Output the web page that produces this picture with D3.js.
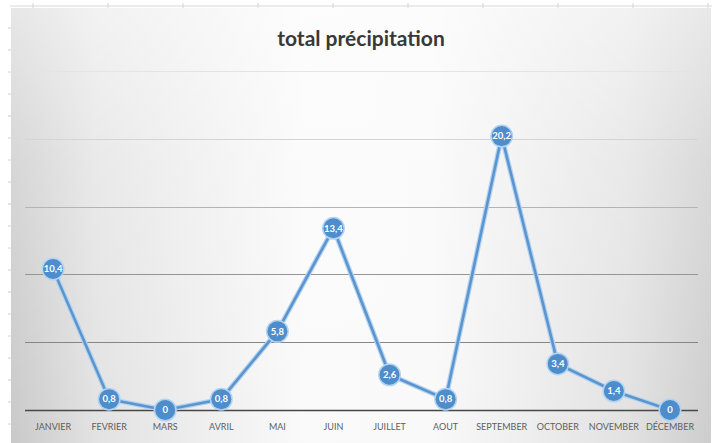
<!DOCTYPE html>
<html><head><meta charset="utf-8">
<script src="https://cdn.jsdelivr.net/npm/d3@7/dist/d3.min.js"></script>
<style>body{margin:0;background:#fff}svg{display:block}</style>
</head><body>
<script>
const months = ["JANVIER","FEVRIER","MARS","AVRIL","MAI","JUIN","JUILLET","AOUT","SEPTEMBER","OCTOBER","NOVEMBER","DÉCEMBER"];
const precipitation = [10.4,0.8,0,0.8,5.8,13.4,2.6,0.8,20.2,3.4,1.4,0];
const yTicks = [0,5,10,15,20,25];
const title = "total précipitation";

const W = 715, H = 443;
const svg = d3.select("body").append("svg").attr("width", W).attr("height", H);
const defs = svg.append("defs");
const lg = defs.append("linearGradient").attr("id","bgh").attr("x1","0").attr("x2","1").attr("y1","0").attr("y2","0");
[[0,"#c9c9c9"],[0.12,"#e2e2e2"],[0.42,"#fafafa"],[0.6,"#f9f9f9"],[0.88,"#e2e2e2"],[1,"#cdcdcd"]]
  .forEach(([o,c])=>lg.append("stop").attr("offset",o).attr("stop-color",c));
const lv = defs.append("linearGradient").attr("id","bgv").attr("x1","0").attr("x2","0").attr("y1","0").attr("y2","1");
lv.append("stop").attr("offset",0).attr("stop-color","#ffffff").attr("stop-opacity",0.55);
lv.append("stop").attr("offset",0.35).attr("stop-color","#ffffff").attr("stop-opacity",0.25);
lv.append("stop").attr("offset",1).attr("stop-color","#ffffff").attr("stop-opacity",0);

// outer spreadsheet rulers
svg.append("line").attr("x1",10).attr("x2",712).attr("y1",6).attr("y2",6).attr("stroke","#d8d8d8").attr("stroke-width",1);
d3.range(33, 712, 75).forEach(x => svg.append("line").attr("x1",x).attr("x2",x).attr("y1",3).attr("y2",8).attr("stroke","#d4d4d4"));
d3.range(28, 440, 22).forEach(y => svg.append("line").attr("x1",8).attr("x2",11).attr("y1",y).attr("y2",y).attr("stroke","#cfcfcf"));

// chart area
svg.append("rect").attr("x",11).attr("y",8).attr("width",700).attr("height",435).attr("fill","url(#bgh)");
svg.append("rect").attr("x",11).attr("y",8).attr("width",700).attr("height",435).attr("fill","url(#bgv)");

const x = d3.scaleBand().domain(months).range([25, 698]);
const y = d3.scaleLinear().domain([0,25]).range([410, 71]);

// gridlines
const gridCol = {0:"#474747",5:"#858585",10:"#959595",15:"#b4b4b4",20:"#d4d4d4",25:"#e4e4e4"};
svg.append("g").selectAll("line").data(yTicks).join("line")
  .attr("x1",25).attr("x2",698)
  .attr("y1",d=>Math.round(y(d))+0.5).attr("y2",d=>Math.round(y(d))+0.5)
  .attr("stroke",d=>gridCol[d]).attr("stroke-width",d=>d===0?1.6:1.2);

// x axis labels
const xAxis = d3.axisBottom(x).tickSize(0).tickPadding(0);
const gx = svg.append("g").attr("transform","translate(0,424)").call(xAxis);
gx.select(".domain").remove();
gx.selectAll("text").attr("font-family","Lato, 'Open Sans', sans-serif").attr("font-size","9px")
  .attr("fill","#5e5e5e").attr("dy","0.71em");

// title
svg.append("text").attr("x",361).attr("y",46).attr("text-anchor","middle")
  .attr("font-family","Lato, 'Open Sans', sans-serif").attr("font-weight","bold").attr("font-size","21px")
  .attr("fill","#383838").text(title);

const pts = months.map((m,i)=>({m, v:precipitation[i]}));
const line = d3.line().x(d=>x(d.m)+x.bandwidth()/2).y(d=>y(d.v));
svg.append("path").datum(pts).attr("d",line).attr("fill","none").attr("stroke","#b3d3f0").attr("stroke-width",5).attr("stroke-linejoin","round");
svg.append("path").datum(pts).attr("d",line).attr("fill","none").attr("stroke","#5b95cf").attr("stroke-width",2.6).attr("stroke-linejoin","round");

const g = svg.append("g").selectAll("g").data(pts).join("g")
  .attr("transform",d=>`translate(${x(d.m)+x.bandwidth()/2},${y(d.v)})`);
g.append("circle").attr("r",11.5).attr("fill","#b3d3f0");
g.append("circle").attr("r",10).attr("fill","#4d8dcb");
g.append("text").attr("text-anchor","middle").attr("dy","0.35em")
  .attr("font-family","Lato, 'Open Sans', sans-serif").attr("font-weight","bold").attr("font-size","9.5px")
  .attr("fill","#ffffff").text(d=>String(d.v).replace(".",","));
</script>
</body></html>
